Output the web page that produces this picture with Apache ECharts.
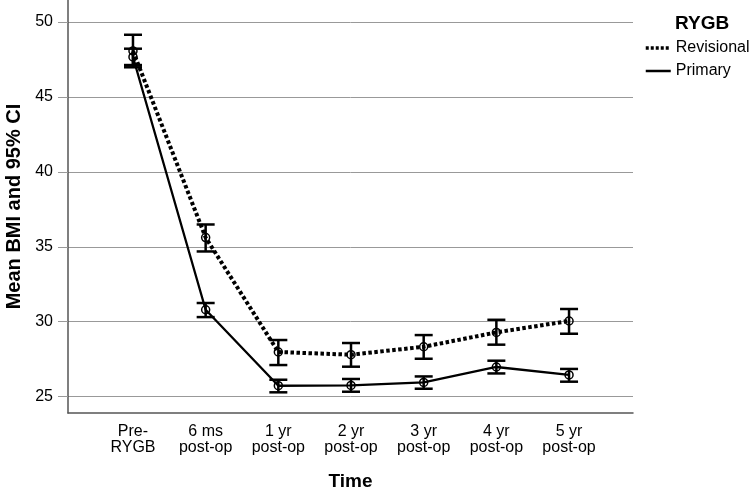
<!DOCTYPE html>
<html>
<head>
<meta charset="utf-8">
<script src="https://cdn.jsdelivr.net/npm/echarts@6/dist/echarts.min.js"></script>
<style>html,body{margin:0;padding:0;background:#fff}#c{width:749px;height:490px}</style>
</head>
<body>
<div id="c"></div>
<script>
const categories = ['Pre-\nRYGB', '6 ms\npost-op', '1 yr\npost-op', '2 yr\npost-op', '3 yr\npost-op', '4 yr\npost-op', '5 yr\npost-op'];
const yTicks = [25, 30, 35, 40, 45, 50];
const revisionalMean = [48.07, 35.62, 27.98, 27.80, 28.33, 29.29, 30.05];
const revisionalLow  = [46.98, 34.69, 27.11, 27.00, 27.53, 28.47, 29.20];
const revisionalHigh = [49.15, 36.49, 28.78, 28.58, 29.11, 30.13, 30.85];
const primaryMean = [47.67, 30.80, 25.73, 25.75, 25.95, 26.98, 26.45];
const primaryLow  = [47.13, 30.31, 25.29, 25.33, 25.53, 26.55, 26.00];
const primaryHigh = [48.22, 31.25, 26.13, 26.18, 26.35, 27.40, 26.85];

const FONT = '"Liberation Sans", Arial, Helvetica, sans-serif';
const xIdx = categories.map((c, i) => i);

function errData(mean, low, high) {
  return mean.map((m, i) => [i, m, low[i], high[i]]);
}
function renderErr(params, api) {
  const x = api.value(0), m = api.value(1), lo = api.value(2), hi = api.value(3);
  const pHi = api.coord([x, hi]);
  const pLo = api.coord([x, lo]);
  const pM = api.coord([x, m]);
  const hw = 9;
  const st = { stroke: '#000', lineWidth: 2.5, fill: null };
  return {
    type: 'group',
    children: [
      { type: 'line', shape: { x1: pHi[0], y1: pHi[1], x2: pLo[0], y2: pLo[1] }, style: st },
      { type: 'line', shape: { x1: pHi[0] - hw, y1: pHi[1], x2: pHi[0] + hw, y2: pHi[1] }, style: st },
      { type: 'line', shape: { x1: pLo[0] - hw, y1: pLo[1], x2: pLo[0] + hw, y2: pLo[1] }, style: st },
      { type: 'circle', shape: { cx: pM[0], cy: pM[1], r: 4 }, style: { stroke: '#000', lineWidth: 1.5, fill: null } }
    ]
  };
}

const chart = echarts.init(document.getElementById('c'), null, { renderer: 'canvas' });
chart.setOption({
  animation: false,
  backgroundColor: '#fff',
  textStyle: { fontFamily: FONT },
  title: {
    text: 'RYGB', left: 670, top: 9,
    textStyle: { fontFamily: FONT, fontSize: 19, fontWeight: 'bold', color: '#000' }
  },
  legend: {
    orient: 'vertical', left: 639, top: 35,
    itemWidth: 25, itemHeight: 14, itemGap: 7,
    itemStyle: { opacity: 0 },
    lineStyle: { width: 'inherit' },
    textStyle: { fontFamily: FONT, fontSize: 16, color: '#000' },
    data: [
      { name: 'Revisional', lineStyle: { width: 3.5, type: [3, 2] } },
      { name: 'Primary', lineStyle: { width: 2.5 } }
    ]
  },
  grid: { left: 68, right: 116, top: 0, bottom: 77, outerBoundsMode: 'none' },
  xAxis: {
    type: 'value', min: -0.894, max: 6.88,
    name: 'Time', nameLocation: 'middle', nameGap: 59,
    nameTextStyle: { fontFamily: FONT, fontSize: 19, fontWeight: 'bold', color: '#000' },
    axisLine: { show: true, onZero: false, lineStyle: { color: '#555', width: 1.5 } },
    axisTick: { show: false, customValues: xIdx },
    splitLine: { show: false },
    axisLabel: {
      customValues: xIdx, margin: 11,
      fontFamily: FONT, fontSize: 16, lineHeight: 16, color: '#000',
      formatter: v => categories[Math.round(v)] || ''
    }
  },
  yAxis: {
    type: 'value', min: 23.91, max: 51.47,
    name: 'Mean BMI and 95% CI', nameLocation: 'middle', nameGap: 42,
    nameTextStyle: { fontFamily: FONT, fontSize: 20, fontWeight: 'bold', color: '#000' },
    axisLine: { show: true, onZero: false, lineStyle: { color: '#555', width: 1.5 } },
    axisTick: { show: true, customValues: yTicks, length: 10, lineStyle: { color: '#999', width: 1 } },
    splitLine: { show: true, lineStyle: { color: '#999', width: 1 } },
    axisLabel: { customValues: yTicks, margin: 15, fontFamily: FONT, fontSize: 16, color: '#000' }
  },
  series: [
    {
      name: 'Revisional', type: 'line', symbol: 'none', z: 2,
      data: revisionalMean.map((v, i) => [i, v]),
      lineStyle: { color: '#000', width: 4, type: [3.5, 2.5] },
      itemStyle: { color: '#000' }
    },
    {
      name: 'Primary', type: 'line', symbol: 'none', z: 2,
      data: primaryMean.map((v, i) => [i, v]),
      lineStyle: { color: '#000', width: 2.3, type: 'solid' },
      itemStyle: { color: '#000' }
    },
    {
      type: 'custom', z: 3, renderItem: renderErr,
      data: errData(revisionalMean, revisionalLow, revisionalHigh)
    },
    {
      type: 'custom', z: 3, renderItem: renderErr,
      data: errData(primaryMean, primaryLow, primaryHigh)
    }
  ]
});
</script>
</body>
</html>
